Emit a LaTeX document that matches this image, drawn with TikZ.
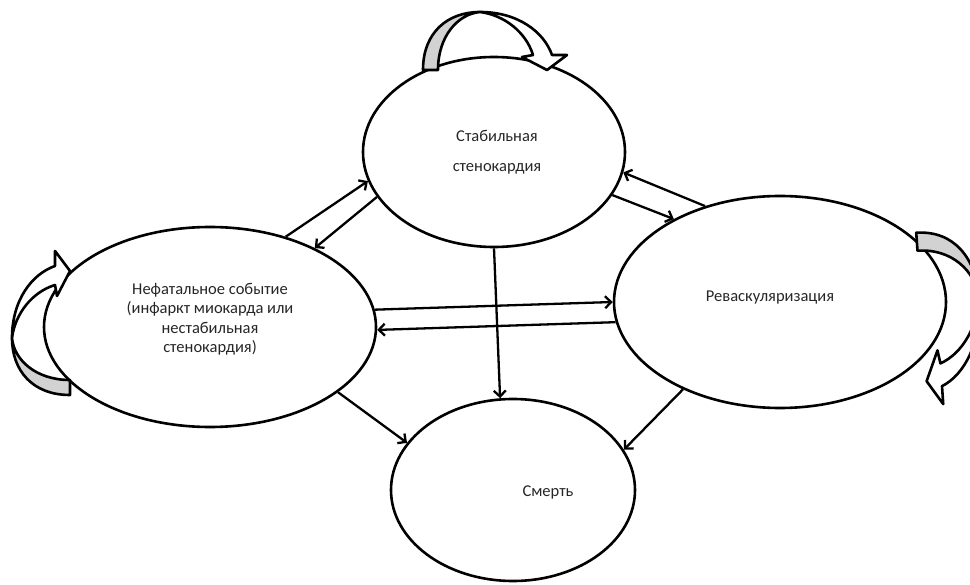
\documentclass[tikz,border=0pt]{standalone}
\usepackage{fontspec}
\setmainfont{Carlito}
\usetikzlibrary{shapes.geometric,arrows.meta}
\tikzset{
  state/.style={draw, ellipse, line width=2.6pt, inner sep=0pt},
  flow/.style={line width=2.3pt, -{Straight Barb[length=6pt,width=12pt]}},
  lbl/.style={align=center, text=black!85, font=\fontsize{16.5}{19.5}\selectfont},
  pics/turn/.style={code={
    % back of the ribbon
    \filldraw[line width=2.6pt, fill=gray!35, line join=round]
      (-57,0) .. controls (-57,-38) and (-32,-58) .. (0,-58)
      .. controls (-22,-56) and (-42,-34) .. (-42,0) -- cycle;
    % front of the ribbon with its head
    \filldraw[line width=2.6pt, fill=white, line join=round]
      (0,-58) .. controls (38,-58) and (64,-38) .. (72,-15)
      -- (87,-15) -- (67,0) -- (42,-13) -- (53,-15)
      .. controls (46,-38) and (24,-55) .. (0,-58) -- cycle;
  }}
}
\begin{document}
\begin{tikzpicture}[x=1pt,y=-1pt]
  \useasboundingbox (0,0) rectangle (970,585);
  \clip (0,0) rectangle (970,585);

  % states
  \node[state, minimum width=262pt, minimum height=190pt] (stab) at (494,152) {};
  \node[state, minimum width=332pt, minimum height=200pt] (nefat) at (210,327) {};
  \node[state, minimum width=332pt, minimum height=212pt] (revas) at (780,302) {};
  \node[state, minimum width=244pt, minimum height=182pt] (smert) at (513,490) {};

  \node[lbl] (stab-t) at (497,152) {Стабильная\\[10.5pt]стенокардия};
  \node[lbl] (nefat-t) at (210,319) {Нефатальное событие\\(инфаркт миокарда или\\нестабильная\\стенокардия)};
  \node[lbl] (revas-t) at (770,298) {Реваскуляризация};
  \node[lbl] (smert-t) at (548,492) {Смерть};

  % transitions
  \draw[flow] (nefat.50) -- (stab.193.6);
  \draw[flow] (stab.201.6) -- (nefat.37.5);
  \draw[flow] (revas.128.6) -- (stab.351.1);
  \draw[flow] (stab.340.2) -- (revas.142.2);
  \draw[flow] (nefat.6.6) -- (revas.180.3);
  \draw[flow] (revas.187) -- (nefat.359.7);
  \draw[flow] (stab.south) -- (smert.98);
  \draw[flow] (nefat.333.6) -- (smert.156.4);
  \draw[flow] (revas.222.4) -- (smert.20.2);

  % staying in the same state
  \pic at (480,70) {turn};
  \pic[rotate=90] at (70,338) {turn};
  \pic[rotate=-86, xscale=1.2] at (921,301) {turn};
\end{tikzpicture}
\end{document}
